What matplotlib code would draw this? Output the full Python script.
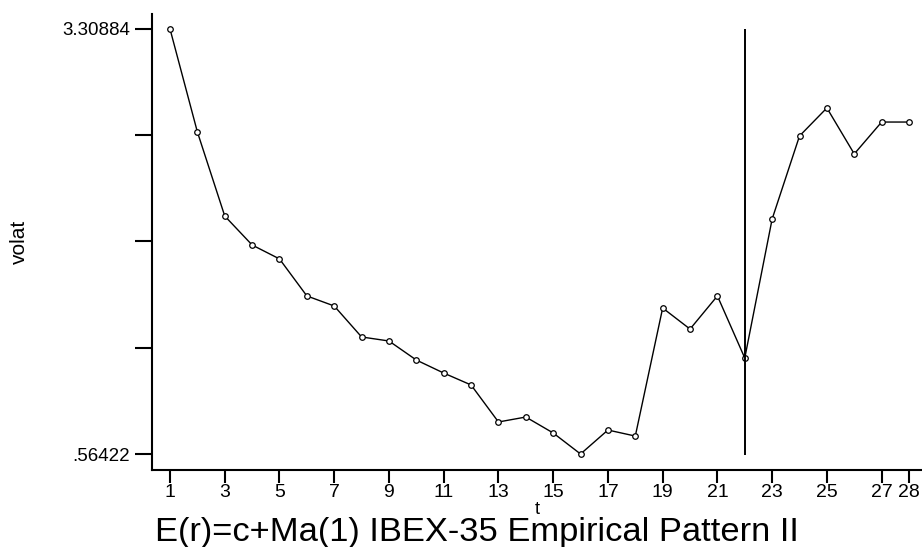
import numpy as np
import matplotlib
matplotlib.use("Agg")
import matplotlib.pyplot as plt

plt.rcParams['font.family'] = ['Liberation Sans', 'DejaVu Sans']

# data
t = list(range(1, 29))
volat = [3.30884, 2.644, 2.101, 1.914, 1.824, 1.585, 1.520, 1.320, 1.294, 1.171,
         1.087, 1.010, 0.771, 0.803, 0.700, 0.56422, 0.719, 0.680, 1.507, 1.371,
         1.585, 1.184, 2.082, 2.618, 2.799, 2.502, 2.708, 2.708]
xticks = [1, 3, 5, 7, 9, 11, 13, 15, 17, 19, 21, 23, 25, 27, 28]
ymin_lab, ymax_lab = 0.56422, 3.30884
yticks = np.linspace(ymin_lab, ymax_lab, 5)
ytick_labels = [".56422", "", "", "", "3.30884"]
break_t = 22

fig = plt.figure(figsize=(9.22, 5.47), dpi=100)
ax = fig.add_axes([152/922, 1 - 470/547, (922-152)/922, (470-14)/547])

ax.plot(t, volat, color='black', lw=1, marker='o', markersize=4,
        markerfacecolor='white', markeredgecolor='black', markeredgewidth=0.9)
ax.vlines(break_t, 0.558, ymax_lab, color='black', lw=1.4)

ax.set_xlim(0.342, 28.475)
ax.set_ylim(0.4609, 3.4057)
ax.set_xticks(xticks)
ax.set_xticklabels([str(v) for v in xticks])
ax.set_yticks(yticks)
ax.set_yticklabels(ytick_labels)

for s in ['top', 'right']:
    ax.spines[s].set_visible(False)
for s in ['left', 'bottom']:
    ax.spines[s].set_linewidth(1.5)
ax.tick_params(axis='y', length=12, width=1.5, labelsize=13.5, pad=4)
ax.tick_params(axis='x', length=9, width=1.5, labelsize=14, pad=1)

ax.set_ylabel("volat", fontsize=15)
ax.yaxis.set_label_coords(-0.16, 0.5)
ax.set_xlabel("t", fontsize=13, labelpad=0)

# title sits at the bottom of the picture
fig.text(155/922, 1 - 532/547, "E(r)=c+Ma(1) IBEX-35 Empirical Pattern II",
         fontsize=24.8, ha='left', va='center')

fig.savefig("out.png", dpi=100)
